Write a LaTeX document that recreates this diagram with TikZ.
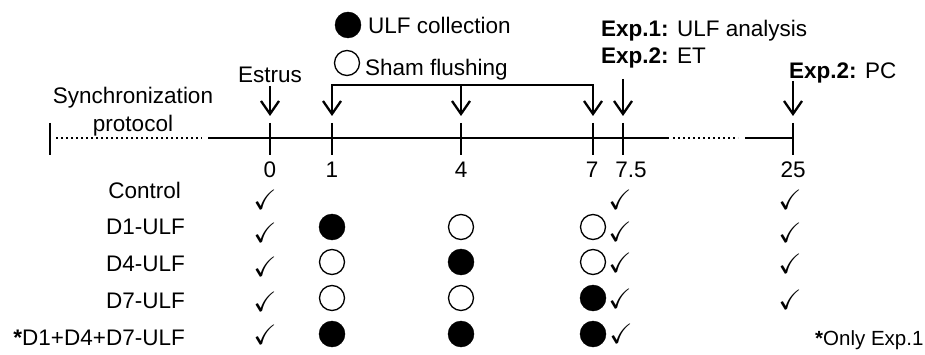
\documentclass[tikz,border=0pt]{standalone}
\usepackage{amssymb}
\usepackage{fontspec}
\setmainfont{Liberation Sans}
\usetikzlibrary{arrows.meta}
\begin{document}
\begin{tikzpicture}[x=1pt,y=-1pt,
  txt/.style={inner sep=0pt,font=\fontsize{22.5}{26}\selectfont},
  lbl/.style={txt,anchor=base east},
  num/.style={txt,anchor=base},
  chk/.style={inner sep=0pt,font=\fontsize{28}{30}\selectfont},
  axis/.style={line width=2.6pt},
  dots/.style={line width=2.4pt,dash pattern=on 2.4pt off 2.6pt},
  tickline/.style={line width=2.6pt},
  arr/.style={line width=2.3pt,-{Straight Barb[length=13pt,width=18pt,line width=2.3pt]}},
  barr/.style={line width=2.3pt,{Straight Barb[length=13pt,width=18pt,line width=2.3pt]}-{Straight Barb[length=13pt,width=18pt,line width=2.3pt]}},
  full/.style={circle,fill=black,draw=black,minimum size=26pt,inner sep=0pt},
  empty/.style={circle,draw=black,line width=1.3pt,minimum size=25pt,inner sep=0pt}]
\useasboundingbox (0,0) rectangle (925,355);
% timeline points
\coordinate (s0) at (50,138);
\coordinate (d0) at (56,138);
\coordinate (d1) at (202,138);
\coordinate (l0) at (208,138);
\coordinate (t0) at (270,138);
\coordinate (t1) at (332,138);
\coordinate (t4) at (461,138);
\coordinate (t7) at (593,138);
\coordinate (t75) at (623,138);
\coordinate (l1) at (669,138);
\coordinate (d2) at (673,138);
\coordinate (d3) at (738,138);
\coordinate (l2) at (745,138);
\coordinate (t25) at (793,138);
% axis
\draw[dots] (d0) -- (d1);
\draw[axis] (l0) -- (l1);
\draw[dots] (d2) -- (d3);
\draw[axis] (l2) -- (t25);
\foreach \p in {s0,t0,t1,t4,t7,t75,t25}
  \draw[tickline] (\p) ++(0,-15) -- ++(0,32);
% numbers
\node[num] (n0) at (270,178) {0};
\node[num] (n1) at (332,178) {1};
\node[num] (n4) at (461,178) {4};
\node[num] (n7) at (592,178) {7};
\node[num] (n75) at (631,178) {7.5};
\node[num] (n25) at (793,178) {25};
% top labels
\node[num] (sync) at (133,104) {Synchronization};
\node[num] (prot) at (133,132) {protocol};
\node[num] (estrus) at (270,83) {Estrus};
\coordinate (e0) at (270,86);
\coordinate (a0) at (270,116);
\draw[arr] (e0) -- (a0);
% bracket
\coordinate (a1) at (332,116);
\coordinate (a4) at (461,116);
\coordinate (a7) at (593,116);
\coordinate (b4) at (461,85);
\draw[barr,line join=miter] (a1) |- (b4) -| (a7);
\draw[arr] (b4) -- (a4);
% exp arrows
\coordinate (b75) at (623,79);
\coordinate (a75) at (623,116);
\draw[arr] (b75) -- (a75);
\coordinate (b25) at (793,81);
\coordinate (a25) at (793,116);
\draw[arr] (b25) -- (a25);
% legend
\node[full] (legfull) at (348,25) {};
\node[txt,anchor=base west] (legulf) at (368,34) {ULF collection};
\node[empty] (legempty) at (347,63) {};
\node[txt,anchor=base west] (legsham) at (365,76) {Sham flushing};
\node[txt,anchor=base west] (exp1) at (601,37) {\textbf{Exp.1:} ULF analysis};
\node[txt,anchor=base west] (exp2) at (601,64) {\textbf{Exp.2:} ET};
\node[txt,anchor=base west] (exp2pc) at (789,79) {\textbf{Exp.2:} PC};
% rows
\node[lbl] (rc) at (181,199) {Control};
\node[lbl] (r1) at (185,234) {D1-ULF};
\node[lbl] (r4) at (185,271) {D4-ULF};
\node[lbl] (r7) at (185,308) {D7-ULF};
\node[lbl] (ra) at (185,345) {{\bfseries *}D1+D4+D7-ULF};
% checks column 0
\node[chk] (k0c) at (265,200) {$\checkmark$};
\node[chk] (k01) at (265,233) {$\checkmark$};
\node[chk] (k04) at (265,267) {$\checkmark$};
\node[chk] (k07) at (265,302) {$\checkmark$};
\node[chk] (k0a) at (265,335) {$\checkmark$};
% checks column 7.5
\node[chk] (k7c) at (620,200) {$\checkmark$};
\node[chk] (k71) at (620,232) {$\checkmark$};
\node[chk] (k74) at (620,263) {$\checkmark$};
\node[chk] (k77) at (620,299) {$\checkmark$};
\node[chk] (k7a) at (621,334) {$\checkmark$};
% checks column 25
\node[chk] (k2c) at (790,200) {$\checkmark$};
\node[chk] (k21) at (790,233) {$\checkmark$};
\node[chk] (k24) at (790,264) {$\checkmark$};
\node[chk] (k27) at (790,300) {$\checkmark$};
% circles
\node[full]  (c11) at (332,227) {};
\node[empty] (c41) at (461,227) {};
\node[empty] (c71) at (593,227) {};
\node[empty] (c14) at (332,262) {};
\node[full]  (c44) at (461,262) {};
\node[empty] (c74) at (593,262) {};
\node[empty] (c17) at (332,298) {};
\node[empty] (c47) at (461,298) {};
\node[full]  (c77) at (593,298) {};
\node[full]  (c1a) at (332,334) {};
\node[full]  (c4a) at (461,334) {};
\node[full]  (c7a) at (593,334) {};
\node[txt,anchor=base west,font=\fontsize{20.5}{24}\selectfont] (note) at (815,345) {{\bfseries *}Only Exp.1};
\end{tikzpicture}
\end{document}
